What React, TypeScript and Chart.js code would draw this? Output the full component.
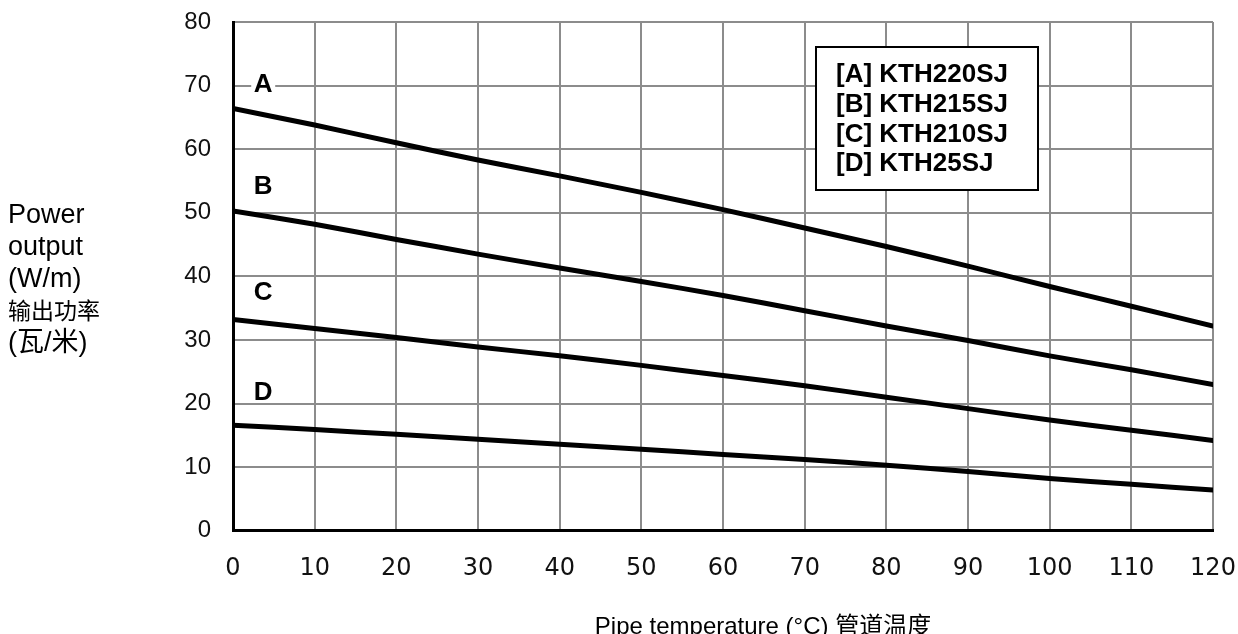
import React, { useEffect, useRef } from "react";
import { Chart, registerables } from "chart.js";

Chart.register(...registerables);

const temperatures = [0, 10, 20, 30, 40, 50, 60, 70, 80, 90, 100, 110, 120];
const seriesA = [66.4, 63.8, 61.0, 58.3, 55.8, 53.2, 50.5, 47.6, 44.7, 41.6, 38.4, 35.3, 32.2];
const seriesB = [50.3, 48.2, 45.8, 43.5, 41.3, 39.2, 37.0, 34.6, 32.2, 29.9, 27.5, 25.3, 23.0];
const seriesC = [33.2, 31.8, 30.4, 28.9, 27.5, 26.0, 24.4, 22.8, 21.0, 19.2, 17.4, 15.8, 14.2];
const seriesD = [16.6, 15.9, 15.15, 14.4, 13.6, 12.8, 12.0, 11.2, 10.3, 9.3, 8.2, 7.3, 6.4];
const seriesLetters = ["A", "B", "C", "D"];
const letterYValues = [70.2, 54.3, 37.5, 21.9];
const legendLines = ["[A] KTH220SJ", "[B] KTH215SJ", "[C] KTH210SJ", "[D] KTH25SJ"];
const yTitleLines = ["Power", "output", "(W/m)", "输出功率", "(瓦/米)"];
const xTitle = "Pipe temperature (°C) 管道温度";

const overlayPlugin = {
  id: "overlay",
  afterDraw(chart: any) {
    const ctx = chart.ctx;
    const xs = chart.scales.x;
    const ys = chart.scales.y;
    ctx.save();
    // series letters
    ctx.font = "bold 26px 'Liberation Sans', Arial, sans-serif";
    ctx.textAlign = "center";
    ctx.textBaseline = "middle";
    seriesLetters.forEach((l, i) => {
      const px = xs.getPixelForValue(3.7);
      const py = ys.getPixelForValue(letterYValues[i]);
      ctx.fillStyle = "#ffffff";
      ctx.fillRect(px - 12, py - 11, 24, 22);
      ctx.fillStyle = "#000000";
      ctx.fillText(l, px, py + 1);
    });
    // legend box
    const bx = 816, by = 47, bw = 222, bh = 143;
    ctx.fillStyle = "#ffffff";
    ctx.fillRect(bx, by, bw, bh);
    ctx.strokeStyle = "#000000";
    ctx.lineWidth = 2;
    ctx.strokeRect(bx, by, bw, bh);
    ctx.fillStyle = "#000000";
    ctx.font = "bold 26px 'Liberation Sans', Arial, sans-serif";
    ctx.textAlign = "left";
    ctx.textBaseline = "alphabetic";
    legendLines.forEach((t, i) => {
      ctx.fillText(t, 836, 82 + i * 29.8);
    });
    // y title
    yTitleLines.forEach((t, i) => {
      let font = "27px 'Liberation Sans', Arial, 'Noto Sans CJK SC', sans-serif";
      if (i === 3) font = "23px 'Noto Sans CJK SC', sans-serif";
      ctx.font = font;
      ctx.fillText(t, 8, 223 + i * 32);
    });
    // x title
    ctx.font = "24px 'Liberation Sans', Arial, 'Noto Sans CJK SC', sans-serif";
    ctx.textAlign = "center";
    ctx.fillText(xTitle, 763, 634);
    ctx.restore();
  },
};

export default function App() {
  const ref = useRef<HTMLCanvasElement | null>(null);
  useEffect(() => {
    document.body.style.margin = "0";
    const mk = (data: number[]) => ({
      data: temperatures.map((t, i) => ({ x: t, y: data[i] })),
      borderColor: "#000000",
      borderWidth: 5,
      pointRadius: 0,
      borderCapStyle: "round" as const,
      borderJoinStyle: "round" as const,
      fill: false,
      tension: 0.2,
    });
    const chart = new Chart(ref.current as HTMLCanvasElement, {
      type: "line",
      data: {
        datasets: [mk(seriesA), mk(seriesB), mk(seriesC), mk(seriesD)],
      },
      options: {
        animation: false,
        responsive: false,
        layout: { padding: { top: 22, right: 25, left: 0, bottom: 0 } },
        plugins: { legend: { display: false }, tooltip: { enabled: false } },
        scales: {
          x: {
            type: "linear",
            min: 0,
            max: 120,
            afterFit(scale: any) {
              scale.height = 103.3;
              scale.paddingLeft = 0;
              scale.paddingRight = 0;
            },
            ticks: {
              stepSize: 10,
              padding: 24,
              color: "#111111",
              font: { family: "'DejaVu Sans', Verdana, sans-serif", size: 24 },
            },
            grid: { color: "#8c8c8c", lineWidth: 2, drawTicks: false },
            border: { color: "#000000", width: 3 },
          },
          y: {
            type: "linear",
            min: 0,
            max: 80,
            afterFit(scale: any) {
              scale.width = 233;
              scale.paddingTop = 0;
              scale.paddingBottom = 0;
            },
            ticks: {
              stepSize: 10,
              padding: 22,
              color: "#111111",
              font: { family: "'Liberation Sans', Arial, sans-serif", size: 24 },
            },
            grid: { color: "#8c8c8c", lineWidth: 2, drawTicks: false },
            border: { color: "#000000", width: 3 },
          },
        },
      },
      plugins: [overlayPlugin],
    });
    return () => chart.destroy();
  }, []);
  return (
    <div style={{ width: 1238, height: 634, overflow: "hidden" }}>
      <canvas ref={ref} width={1238} height={634} />
    </div>
  );
}
